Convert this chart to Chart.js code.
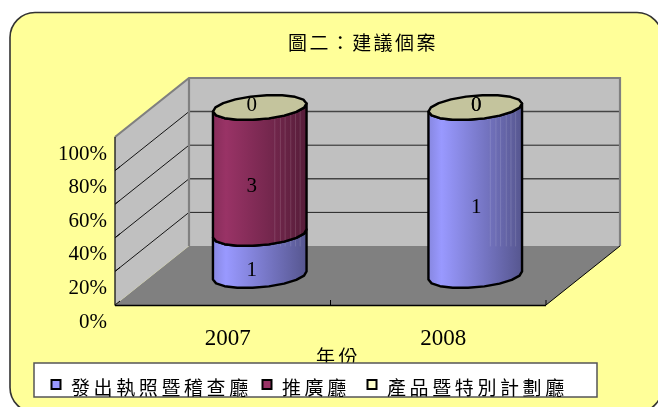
<!DOCTYPE html>
<html>
<head>
<meta charset="utf-8">
<style>
  html, body { margin: 0; padding: 0; background: #fff; overflow: hidden; }
  canvas { display: block; }
</style>
<script src="https://cdn.jsdelivr.net/npm/chart.js@4"></script>
</head>
<body>
<canvas id="chart" width="658" height="407"></canvas>
<script>
const years = ['2007', '2008'];
const issuedLicences = [1, 1];
const promotion = [3, 0];
const productSpecial = [0, 0];
const seriesNames = ['發出執照暨稽查廳', '推廣廳', '產品暨特別計劃廳'];
const seriesColors = ['#9999FF', '#993366', '#FFFFCC'];
const percentTicks = ['0%', '20%', '40%', '60%', '80%', '100%'];
const chartTitle = '圖二：建議個案';
const xTitle = '年份';

const seriesCounts = [issuedLicences, promotion, productSpecial];
const totals = years.map((y, i) => seriesCounts.reduce((sum, s) => sum + s[i], 0));

const CJK = '"Noto Sans CJK TC", "Noto Sans", sans-serif';
const DIGITS = '"Liberation Serif", serif';
const depthX = 74, depthY = -59;

function shade(hex, f) {
    const n = parseInt(hex.slice(1), 16);
    return `rgb(${Math.round((n >> 16) * f)},${Math.round(((n >> 8) & 255) * f)},${Math.round((n & 255) * f)})`;
}

// half of a slightly tilted ellipse, the polygon look is on purpose
function ellipsePoints(cx, cy, a, b, from, to) {
    const r = -5 * Math.PI / 180, pts = [], steps = 9;
    for (let k = 0; k <= steps; k++) {
        const t = from + (to - from) * k / steps;
        pts.push([cx + a * Math.cos(t) * Math.cos(r) - b * Math.sin(t) * Math.sin(r),
                  cy + a * Math.cos(t) * Math.sin(r) + b * Math.sin(t) * Math.cos(r)]);
    }
    return pts;
}

function line(ctx, x1, y1, x2, y2, color, width) {
    ctx.strokeStyle = color;
    ctx.lineWidth = width;
    ctx.beginPath();
    ctx.moveTo(x1, y1);
    ctx.lineTo(x2, y2);
    ctx.stroke();
}

function spaced(ctx, text, x, y, font, gap) {
    ctx.save();
    ctx.font = font;
    ctx.letterSpacing = gap + 'px';
    ctx.fillStyle = '#000';
    ctx.textAlign = 'left';
    ctx.textBaseline = 'middle';
    ctx.fillText(text, x, y);
    ctx.restore();
}

const scenePlugin = {
    id: 'scene',
    beforeDraw(chart) {
        const ctx = chart.ctx, xs = chart.scales.x, ys = chart.scales.y;
        const left = xs.left, right = xs.right, y0 = ys.getPixelForValue(0), y100 = ys.getPixelForValue(100);

        // card
        ctx.save();
        ctx.beginPath();
        ctx.roundRect(10, 12.5, 652, 400, 25);
        ctx.fillStyle = '#FFFF99';
        ctx.fill();
        ctx.strokeStyle = '#333';
        ctx.lineWidth = 1.6;
        ctx.stroke();

        // floor, side wall, back wall
        ctx.fillStyle = '#808080';
        ctx.beginPath();
        ctx.moveTo(left, y0);
        ctx.lineTo(right, y0);
        ctx.lineTo(right + depthX, y0 + depthY);
        ctx.lineTo(left + depthX, y0 + depthY);
        ctx.closePath();
        ctx.fill();

        ctx.fillStyle = '#C0C0C0';
        ctx.beginPath();
        ctx.moveTo(left, y0);
        ctx.lineTo(left, y100);
        ctx.lineTo(left + depthX, y100 + depthY);
        ctx.lineTo(left + depthX, y0 + depthY);
        ctx.closePath();
        ctx.fill();
        ctx.fillRect(left + depthX, y100 + depthY, right - left, y0 - y100);

        // gridlines run along the side wall then across the back wall
        percentTicks.forEach((t, i) => {
            const py = ys.getPixelForValue(i * 20);
            if (i > 0 && i < 5) {
                line(ctx, left, py, left + depthX, py + depthY, '#000', 0.9);
                line(ctx, left + depthX, py + depthY, right + depthX, py + depthY, i % 2 ? '#222' : '#444', i % 2 ? 1 : 1.5);
            }
            line(ctx, left, py, left + 5, py - 4, '#000', 1);
        });

        // wall frame
        ctx.lineJoin = 'miter';
        ctx.strokeStyle = '#808080';
        ctx.lineWidth = 2.2;
        ctx.beginPath();
        ctx.moveTo(left, y100);
        ctx.lineTo(left + depthX, y100 + depthY);
        ctx.lineTo(right + depthX, y100 + depthY);
        ctx.lineTo(right + depthX, y0 + depthY);
        ctx.moveTo(left + depthX, y100 + depthY);
        ctx.lineTo(left + depthX, y0 + depthY);
        ctx.stroke();

        // front edges
        line(ctx, left, y100, left, y0 + 0.5, '#222', 1.4);
        line(ctx, left, y0 + 0.5, right, y0 + 0.5, '#000', 1.4);
        line(ctx, right, y0, right + depthX, y0 + depthY, '#000', 1);
        line(ctx, (left + right) / 2, y0, (left + right) / 2, y0 - 5, '#000', 1);
        line(ctx, right, y0, right, y0 - 5, '#000', 1);
        ctx.restore();

        spaced(ctx, chartTitle, 288, 43, '19px ' + CJK, 2.4);
    },
    afterDatasetsDraw(chart) {
        const ctx = chart.ctx;
        const a = chart.getDatasetMeta(0).data[0].width / 2, b = 11.8;
        const floorY = chart.scales.y.getPixelForValue(0) + depthY;
        ctx.save();
        ctx.lineJoin = 'round';
        ctx.lineCap = 'round';

        years.forEach((year, j) => {
            let topShape = null;
            seriesCounts.forEach((series, i) => {
                const el = chart.getDatasetMeta(i).data[j];
                const cx = el.x + depthX / 2, top = el.y + depthY / 2, bottom = el.base + depthY / 2;
                topShape = { cx, top, color: seriesColors[i] };
                if (series[j] === 0) return;

                const lower = ellipsePoints(cx, bottom, a, b, Math.PI, 0);
                const upper = ellipsePoints(cx, top, a, b, 0, Math.PI);
                const path = new Path2D();
                lower.forEach((p, k) => k ? path.lineTo(p[0], p[1]) : path.moveTo(p[0], p[1]));
                upper.forEach(p => path.lineTo(p[0], p[1]));
                path.closePath();

                const g = ctx.createLinearGradient(cx - a, 0, cx + a, 0);
                g.addColorStop(0, shade(seriesColors[i], 0.88));
                g.addColorStop(0.14, seriesColors[i]);
                g.addColorStop(1, shade(seriesColors[i], 0.56));
                ctx.fillStyle = g;
                ctx.fill(path);

                // faint banding on the shaded side, stops at the floor line
                ctx.save();
                ctx.clip(path);
                [0.66, 0.72, 0.77, 0.83, 0.88, 0.93].forEach(f => {
                    line(ctx, cx - a + 2 * a * f, top - 20, cx - a + 2 * a * f, floorY, 'rgba(255,255,255,0.13)', 1);
                });
                ctx.restore();

                ctx.strokeStyle = '#000';
                ctx.lineWidth = 2.4;
                ctx.stroke(path);
            });

            const ring = ellipsePoints(topShape.cx, topShape.top, a, b, 0, Math.PI)
                .concat(ellipsePoints(topShape.cx, topShape.top, a, b, Math.PI, 2 * Math.PI));
            ctx.beginPath();
            ring.forEach((p, k) => k ? ctx.lineTo(p[0], p[1]) : ctx.moveTo(p[0], p[1]));
            ctx.closePath();
            ctx.fillStyle = shade(topShape.color, 0.77);
            ctx.fill();
            ctx.strokeStyle = '#000';
            ctx.lineWidth = 2.4;
            ctx.stroke();
        });

        // value labels
        ctx.font = '21px ' + DIGITS;
        ctx.fillStyle = '#000';
        ctx.textAlign = 'center';
        ctx.textBaseline = 'middle';
        const labelNudge = [-8, 1];
        years.forEach((year, j) => {
            seriesCounts.forEach((series, i) => {
                const el = chart.getDatasetMeta(i).data[j];
                const mid = (el.y + el.base) / 2 + depthY / 2;
                ctx.fillText(String(series[j]), el.x + depthX / 2 + labelNudge[j], series[j] === 0 ? mid - 2 : mid + 16);
            });
        });
        ctx.restore();
    },
    afterDraw(chart) {
        const ctx = chart.ctx;
        spaced(ctx, xTitle, 316, 357, '19px ' + CJK, 3.5);

        ctx.save();
        ctx.fillStyle = '#fff';
        ctx.fillRect(34, 363, 563, 34);
        ctx.strokeStyle = '#555';
        ctx.lineWidth = 1.5;
        ctx.strokeRect(34, 363, 563, 34);

        const markerX = [51.5, 262.5, 367.5], textX = [71, 282, 387];
        seriesNames.forEach((name, i) => {
            ctx.fillStyle = seriesColors[i];
            ctx.strokeStyle = '#000';
            ctx.lineWidth = 2;
            ctx.fillRect(markerX[i], 380, 9, 9);
            ctx.strokeRect(markerX[i], 380, 9, 9);
            spaced(ctx, name, textX[i], 388, '19px ' + CJK, 3.6);
        });
        ctx.restore();
    }
};

new Chart(document.getElementById('chart').getContext('2d'), {
    type: 'bar',
    data: {
        labels: years,
        datasets: seriesCounts.map((series, i) => ({
            label: seriesNames[i],
            data: series.map((v, j) => v / totals[j] * 100),
            backgroundColor: 'transparent',
            borderWidth: 0,
            categoryPercentage: 1,
            barPercentage: 0.436
        }))
    },
    options: {
        responsive: false,
        animation: false,
        layout: { padding: { left: 0, top: 137, right: 112, bottom: 40 } },
        plugins: { legend: { display: false }, title: { display: false }, tooltip: { enabled: false } },
        scales: {
            x: {
                stacked: true,
                afterFit: s => { s.height = 62; },
                grid: { display: false, tickLength: 0 },
                border: { display: false },
                ticks: { color: '#000', font: { family: DIGITS, size: 23 }, padding: 20, labelOffset: 5, maxRotation: 0 }
            },
            y: {
                stacked: true,
                min: 0,
                max: 100,
                afterFit: s => { s.width = 115; },
                grid: { display: false, tickLength: 0 },
                border: { display: false },
                ticks: {
                    stepSize: 20,
                    color: '#000',
                    font: { family: DIGITS, size: 21 },
                    padding: 8,
                    labelOffset: 17,
                    callback: (v) => percentTicks[v / 20]
                }
            }
        }
    },
    plugins: [scenePlugin]
});
</script>
</body>
</html>
